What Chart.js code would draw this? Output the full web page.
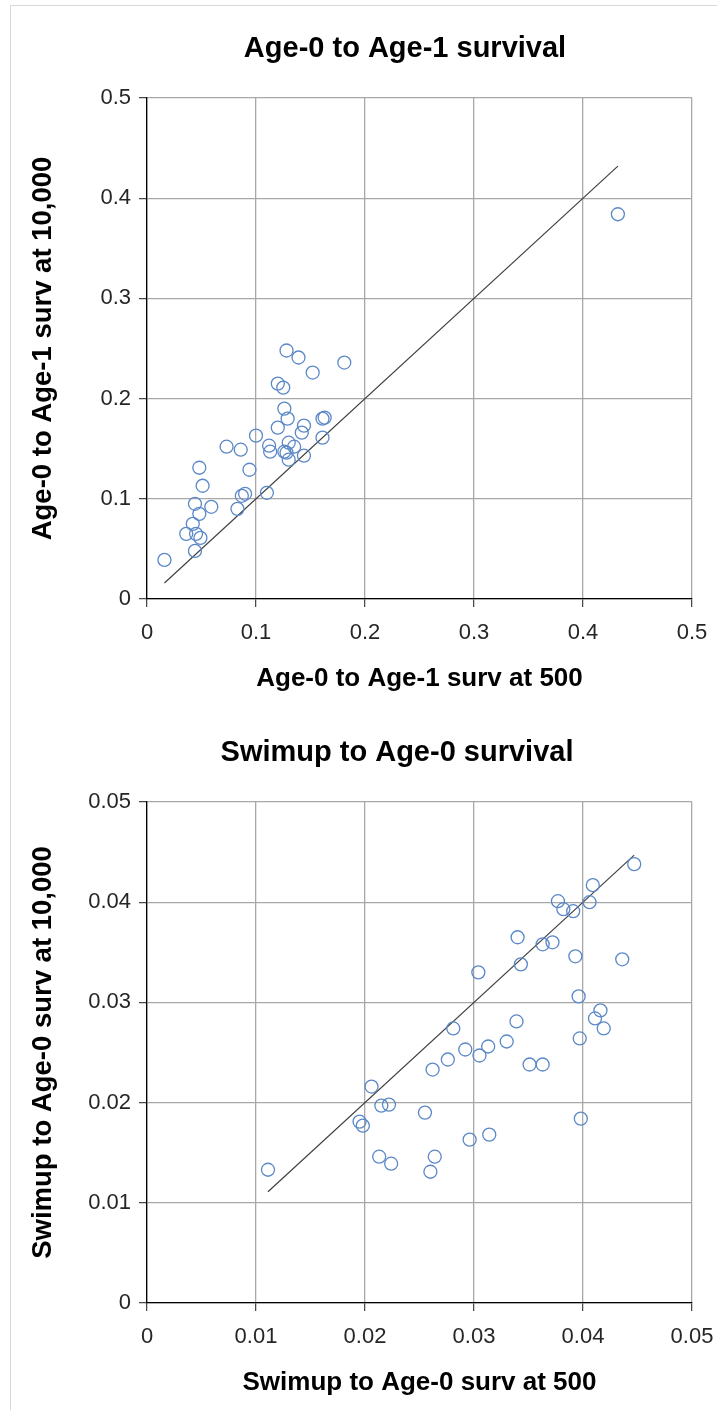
<!DOCTYPE html>
<html>
<head>
<meta charset="utf-8">
<script src="https://cdn.jsdelivr.net/npm/chart.js@4.4.1/dist/chart.umd.min.js"></script>
<style>
  html, body { margin: 0; padding: 0; background: #fff; overflow: hidden; }
  #frame { position: absolute; left: 10px; top: 5px; width: 720px; height: 1420px; border: 1px solid #d9d9d9; }
  canvas { position: absolute; left: 0; }
</style>
</head>
<body>
<div id="frame"></div>
<canvas id="ageChart" width="717" height="704" style="top:0"></canvas>
<canvas id="swimChart" width="717" height="704" style="top:704px"></canvas>
<script>
// Age-0 to Age-1 survival: x = surv at 500, y = surv at 10,000
const ageX = [0.128, 0.139, 0.181, 0.152, 0.120, 0.125, 0.126, 0.129, 0.161, 0.163,
              0.144, 0.120, 0.142, 0.100, 0.161, 0.073, 0.086, 0.112, 0.113, 0.130,
              0.135, 0.126, 0.128, 0.130, 0.144, 0.048, 0.094, 0.051, 0.087, 0.090,
              0.110, 0.044, 0.059, 0.083, 0.048, 0.042, 0.036, 0.045, 0.049, 0.044,
              0.016, 0.432];
const ageY = [0.248, 0.241, 0.236, 0.226, 0.215, 0.211, 0.190, 0.180, 0.180, 0.181,
              0.173, 0.171, 0.166, 0.163, 0.161, 0.152, 0.149, 0.153, 0.147, 0.156,
              0.152, 0.147, 0.146, 0.139, 0.143, 0.131, 0.129, 0.113, 0.103, 0.105,
              0.106, 0.095, 0.092, 0.090, 0.085, 0.075, 0.065, 0.065, 0.061, 0.048,
              0.039, 0.384];
const ageTicks = ['0', '0.1', '0.2', '0.3', '0.4', '0.5'];

// Swimup to Age-0 survival
const swimX = [0.0447, 0.0409, 0.0377, 0.0382, 0.0391, 0.0406, 0.0340, 0.0363, 0.0372, 0.0393,
               0.0436, 0.0343, 0.0304, 0.0396, 0.0416, 0.0411, 0.0419, 0.0339, 0.0281, 0.0330,
               0.0313, 0.0292, 0.0305, 0.0397, 0.0276, 0.0262, 0.0351, 0.0363, 0.0206, 0.0215,
               0.0222, 0.0255, 0.0195, 0.0198, 0.0398, 0.0296, 0.0314, 0.0213, 0.0224, 0.0264,
               0.0260, 0.0111];
const swimY = [0.0438, 0.0417, 0.0401, 0.0393, 0.0391, 0.0400, 0.0365, 0.0358, 0.0360, 0.0346,
               0.0343, 0.0338, 0.0330, 0.0306, 0.0292, 0.0284, 0.0274, 0.0281, 0.0274, 0.0261,
               0.0256, 0.0253, 0.0247, 0.0264, 0.0243, 0.0233, 0.0238, 0.0238, 0.0216, 0.0197,
               0.0198, 0.0190, 0.0181, 0.0177, 0.0184, 0.0163, 0.0168, 0.0146, 0.0139, 0.0146,
               0.0131, 0.0133];
const swimTicks = ['0', '0.01', '0.02', '0.03', '0.04', '0.05'];

const FONT = "'Liberation Sans', Arial, sans-serif";

// chart heading drawn a bit right of centre, like the original
const headingPlugin = {
    id: 'heading',
    afterDraw(chart, args, opts) {
        const ctx = chart.ctx;
        ctx.save();
        ctx.font = 'bold ' + opts.size + 'px ' + FONT;
        ctx.fillStyle = '#000';
        ctx.textAlign = 'center';
        ctx.textBaseline = 'middle';
        ctx.fillText(opts.text, opts.x, opts.y);
        ctx.restore();
    }
};

const makeChart = (canvasId, title, titleX, xTitle, yTitle, xs, ys, axisMax, step, tickLabels) => {
    const points = xs.map((x, i) => ({ x: x, y: ys[i] }));
    // 1:1 reference line across the range of the x data
    const lo = Math.min(...xs);
    const hi = Math.max(...xs);
    const axisOpts = (label, isY) => ({
        type: 'linear',
        min: 0,
        max: axisMax,
        afterFit: (scale) => {
            if (isY) {
                scale.width = 147;
            } else {
                scale.height = 105;
                scale.paddingLeft = 0;
                scale.paddingRight = 0;
            }
        },
        ticks: {
            stepSize: step,
            padding: isY ? 8 : 13,
            color: '#262626',
            font: { family: FONT, size: 22 },
            callback: (value, index) => tickLabels[index]
        },
        grid: {
            color: '#a8a8a8',
            lineWidth: 1.3,
            tickLength: 8,
            tickColor: '#404040',
            tickWidth: 1.2
        },
        border: { color: '#000', width: 1.3 },
        title: {
            display: true,
            text: label,
            color: '#000',
            font: { family: FONT, size: isY ? 27.5 : 26, weight: 'bold' },
            padding: isY ? { top: 27, bottom: 0 } : { top: 0, bottom: 10 }
        }
    });

    return new Chart(document.getElementById(canvasId).getContext('2d'), {
        type: 'scatter',
        plugins: [headingPlugin],
        data: {
            datasets: [{
                data: points,
                pointStyle: 'circle',
                pointRadius: 6.5,
                pointHoverRadius: 6.5,
                backgroundColor: 'rgba(0,0,0,0)',
                borderColor: '#5b88c7',
                borderWidth: 1.3
            }, {
                type: 'line',
                data: [{ x: lo, y: lo }, { x: hi, y: hi }],
                borderColor: '#404040',
                borderWidth: 1.2,
                pointRadius: 0,
                fill: false
            }]
        },
        options: {
            responsive: false,
            animation: false,
            layout: { padding: { left: 0, right: 25, top: 98, bottom: 0 } },
            plugins: {
                legend: { display: false },
                tooltip: { enabled: false },
                heading: { text: title, x: titleX, y: 49, size: 29 }
            },
            scales: {
                x: axisOpts(xTitle, false),
                y: axisOpts(yTitle, true)
            }
        }
    });
};

makeChart('ageChart', 'Age-0 to Age-1 survival', 405,
    'Age-0 to Age-1 surv at 500', 'Age-0 to Age-1 surv at 10,000',
    ageX, ageY, 0.5, 0.1, ageTicks);

makeChart('swimChart', 'Swimup to Age-0 survival', 397,
    'Swimup to Age-0 surv at 500', 'Swimup to Age-0 surv at 10,000',
    swimX, swimY, 0.05, 0.01, swimTicks);
</script>
</body>
</html>
